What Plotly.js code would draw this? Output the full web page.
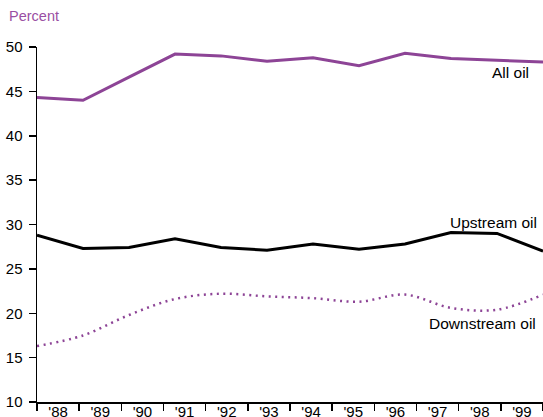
<!DOCTYPE html>
<html>
<head>
<meta charset="utf-8">
<script src="https://cdn.plot.ly/plotly-3.0.1.min.js"></script>
<style>html,body{margin:0;padding:0;background:#fff;}#chart{width:543px;height:417px;}</style>
</head>
<body>
<div id="chart"></div>
<script>
// Data
const years = [1988, 1989, 1990, 1991, 1992, 1993, 1994, 1995, 1996, 1997, 1998, 1999];
const yearLabels = ["'88", "'89", "'90", "'91", "'92", "'93", "'94", "'95", "'96", "'97", "'98", "'99"];
const allOil = [44.3, 44.0, 46.6, 49.2, 49.0, 48.4, 48.8, 47.9, 49.3, 48.7, 48.5, 48.3];
const upstreamOil = [28.8, 27.3, 27.4, 28.4, 27.4, 27.1, 27.8, 27.2, 27.8, 29.1, 29.0, 27.0];
const downstreamOil = [16.3, 17.5, 19.8, 21.6, 22.2, 21.9, 21.7, 21.3, 22.1, 20.6, 20.4, 22.1];
const yTicks = [10, 15, 20, 25, 30, 35, 40, 45, 50];

const purple = '#8D4496';
const font = 'Liberation Sans, Arial, sans-serif';

const traces = [
  {x: years, y: allOil, xaxis: 'x2', yaxis: 'y', mode: 'lines', type: 'scatter',
   line: {color: purple, width: 3}, hoverinfo: 'none'},
  {x: years, y: upstreamOil, xaxis: 'x2', yaxis: 'y', mode: 'lines', type: 'scatter',
   line: {color: '#000000', width: 3}, hoverinfo: 'none'},
  {x: years, y: downstreamOil, xaxis: 'x2', yaxis: 'y', mode: 'lines', type: 'scatter',
   line: {color: purple, width: 2.5, dash: '2px,4.5px', shape: 'spline', smoothing: 1}, hoverinfo: 'none'},
  // invisible trace to host the category axis
  {x: yearLabels, y: yearLabels.map(() => null), xaxis: 'x', yaxis: 'y', mode: 'lines',
   type: 'scatter', hoverinfo: 'none', showlegend: false}
];

const layout = {
  width: 543, height: 417,
  margin: {l: 37, r: 0, t: 47, b: 15, pad: 0},
  paper_bgcolor: '#ffffff', plot_bgcolor: '#ffffff',
  showlegend: false,
  font: {family: font, size: 15, color: '#000000'},
  title: {text: 'Percent', xref: 'container', yref: 'container', x: 9/543, xanchor: 'left',
          y: 1 - 16/417, yanchor: 'middle', font: {family: font, size: 14.5, color: '#9A4FA3'}},
  xaxis: {type: 'category', categoryorder: 'array', categoryarray: yearLabels,
          range: [-0.5, 11.5], tickmode: 'array', tickvals: yearLabels, ticktext: yearLabels,
          tickson: 'boundaries', ticks: 'outside', ticklen: 7, tickwidth: 1.5, tickcolor: '#000',
          ticklabelstandoff: -5,
          showline: true, linecolor: '#000', linewidth: 1.5, showgrid: false, zeroline: false,
          tickfont: {family: font, size: 15, color: '#000'}, fixedrange: true},
  xaxis2: {overlaying: 'x', range: [1988, 1999], visible: false, showgrid: false, zeroline: false, fixedrange: true},
  yaxis: {range: [10, 50], tickmode: 'array', tickvals: yTicks, ticks: 'outside', ticklen: 7,
          tickwidth: 1.5, tickcolor: '#000', showline: true, linecolor: '#000', linewidth: 1.5,
          ticklabelstandoff: 3,
          showgrid: false, zeroline: false, tickfont: {family: font, size: 15, color: '#000'}, fixedrange: true},
  annotations: [
    {xref: 'x2', yref: 'y', x: 1998.74, y: 47.1, text: 'All oil', showarrow: false,
     xanchor: 'right', yanchor: 'middle', font: {family: font, size: 15.5, color: '#000'}},
    {xref: 'x2', yref: 'y', x: 1998.91, y: 30.2, text: 'Upstream oil', showarrow: false,
     xanchor: 'right', yanchor: 'middle', font: {family: font, size: 15.5, color: '#000'}},
    {xref: 'x2', yref: 'y', x: 1998.89, y: 18.9, text: 'Downstream oil', showarrow: false,
     xanchor: 'right', yanchor: 'middle', font: {family: font, size: 15.5, color: '#000'}}
  ]
};

Plotly.newPlot('chart', traces, layout, {staticPlot: true, displayModeBar: false});
</script>
</body>
</html>
